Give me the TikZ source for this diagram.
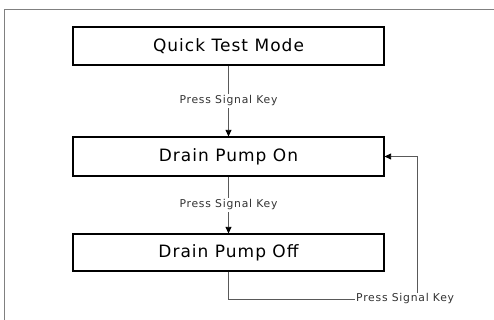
\documentclass[tikz,border=0pt]{standalone}
\usepackage{fontspec}
\setmainfont{DejaVu Sans}
\newfontfamily\boxfont[LetterSpace=6]{DejaVu Sans}
\newfontfamily\lblfont[LetterSpace=7]{DejaVu Sans}
\usetikzlibrary{arrows.meta}
\begin{document}
\begin{tikzpicture}[x=1pt,y=1pt,
  statebox/.style={draw=black,line width=1.2pt,minimum width=311pt,inner sep=0pt,font=\boxfont\fontsize{17}{19}\selectfont},
  lbl/.style={fill=white,inner sep=1.5pt,font=\lblfont\fontsize{10.8}{12}\selectfont,text=black!80},
  conn/.style={draw=black!65,line width=0.8pt},
  tip/.style={-{Triangle[length=6.5pt,width=6pt,fill=black,color=black]}}]
\useasboundingbox (0,0) rectangle (494,320);
\draw[black!50,line width=0.9pt] (4,-2) -- (4,311) -- (496,311);
\node[statebox,minimum height=38pt] (qtm) at (228.5,274) {Quick Test Mode};
\node[statebox,minimum height=39pt] (on) at (228.5,163.5) {Drain Pump On};
\node[statebox,minimum height=37pt] (off) at (228.5,67.5) {Drain Pump Off};
\draw[conn,tip] (qtm) -- node[lbl] (l1) {Press Signal Key} (on);
\draw[conn,tip] (on) -- node[lbl] (l2) {Press Signal Key} (off);
\node[lbl,anchor=west,inner sep=1pt] (l3) at (355,21) {Press Signal Key};
\coordinate (rt) at (417,163.5);
\draw[conn] (off.south) |- (l3.west);
\draw[conn,tip] (l3.north -| rt) -- (rt) -- (on.east);
\end{tikzpicture}
\end{document}
